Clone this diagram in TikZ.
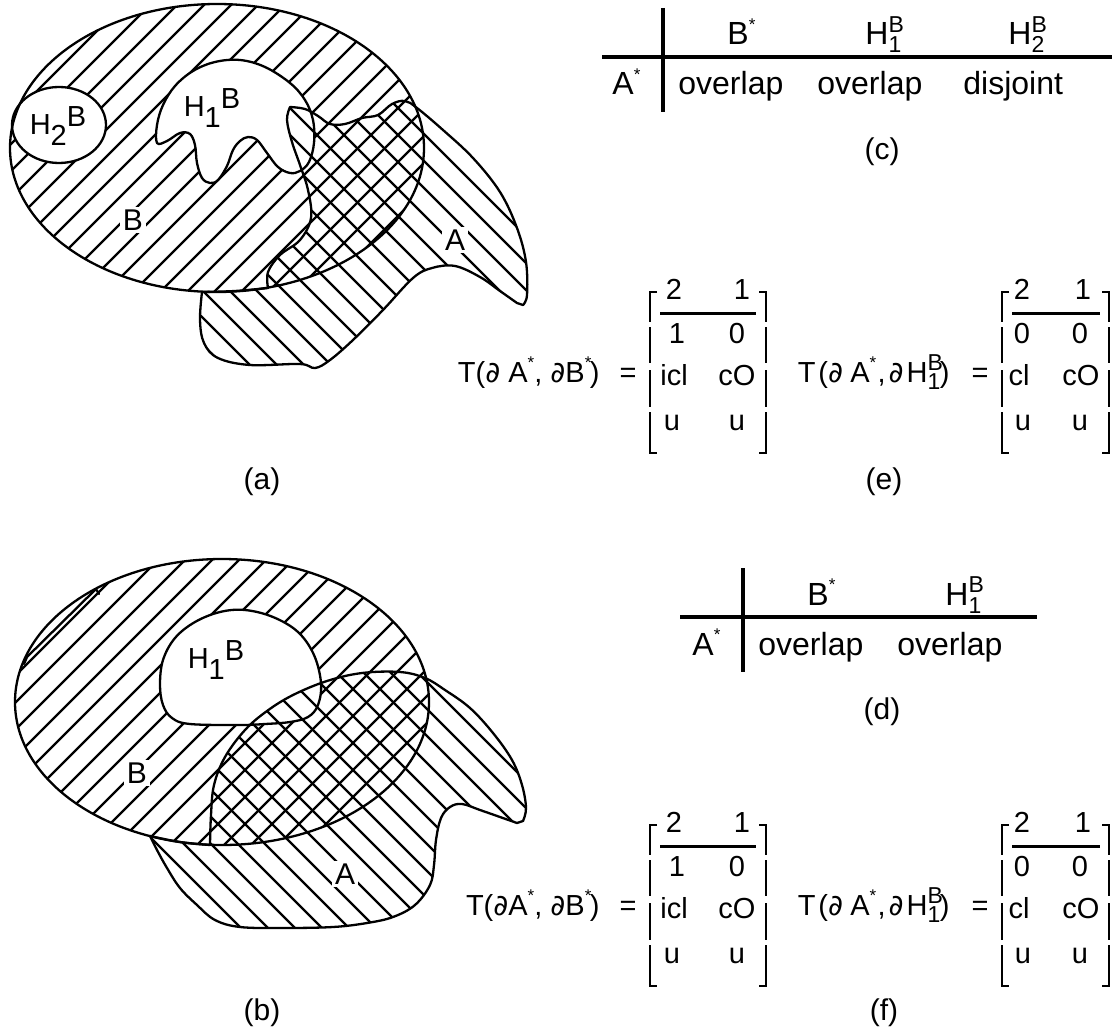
\documentclass[tikz,border=0pt]{standalone}
\usepackage{fontspec}
\setmainfont{Liberation Sans}
\newfontfamily\djv{DejaVu Sans}
\newcommand\pd{{\djv\itshape ∂}}
\newcommand\st{\raisebox{0.45em}{\fontsize{8.5}{8.5}\selectfont *}}
\newcommand\HB[1]{H\rlap{\raisebox{-0.25em}{\fontsize{11.5}{12}\selectfont #1}}\raisebox{0.4em}{\fontsize{11.5}{12}\selectfont B}}
\newcommand\Hlab[1]{H\raisebox{-0.38em}{#1}\raisebox{0.27em}{B}}
% matrix bracket: x, top, hook (signed)
\newcommand\mbrk[3]{%
  \draw[brk] ({#1+(#3)},#2) -- (#1,#2) -- (#1,#2+30);
  \draw[brk] (#1,#2+35) -- (#1,#2+71);
  \draw[brk] (#1,#2+78) -- (#1,#2+115);
  \draw[brk] (#1,#2+120) -- (#1,#2+161) -- ({#1+(#3)},#2+161);}
% T block: #1 prefix, #2 vertical shift, #3 space after first partial
\newcommand\Tblock[3]{%
\begin{scope}[shift={(0,#2)}]
  \node[mat, anchor=base east] (#1t1) at (600,382) {T(\pd#3A\st, \pd B\st\hspace{-0.05em})};
  \node[mat, anchor=base] (#1q1) at (628,382) {=};
  \mbrk{650}{292}{7}
  \mbrk{766}{292}{-7}
  \draw[mrule] (660,313) -- (756,313);
  \node[mat, anchor=base] (#1a11) at (674,299) {2};
  \node[mat, anchor=base] (#1a12) at (742,299) {1};
  \node[mat, anchor=base] (#1a21) at (677,343) {1};
  \node[mat, anchor=base] (#1a22) at (737,343) {0};
  \node[mat, anchor=base] (#1a31) at (674,385) {icl};
  \node[mat, anchor=base] (#1a32) at (737,385) {cO};
  \node[mat, anchor=base] (#1a41) at (672,430) {u};
  \node[mat, anchor=base] (#1a42) at (737,430) {u};
  \node[mat, anchor=base east] (#1t2) at (950,382) {T\hspace{0.1em}(\pd\hspace{0.25em}A\st\hspace{0.05em},\hspace{0.1em}\pd\hspace{0.1em}\HB{1}\hspace{-0.1em})};
  \node[mat, anchor=base] (#1q2) at (980,382) {=};
  \mbrk{1002}{292}{7}
  \mbrk{1109}{292}{-7}
  \draw[mrule] (1012,313) -- (1100,313);
  \node[mat, anchor=base] (#1b11) at (1022,299) {2};
  \node[mat, anchor=base] (#1b12) at (1083,299) {1};
  \node[mat, anchor=base] (#1b21) at (1022,343) {0};
  \node[mat, anchor=base] (#1b22) at (1080,343) {0};
  \node[mat, anchor=base] (#1b31) at (1019,385) {cl};
  \node[mat, anchor=base] (#1b32) at (1081,385) {cO};
  \node[mat, anchor=base] (#1b41) at (1023,430) {u};
  \node[mat, anchor=base] (#1b42) at (1080,430) {u};
\end{scope}}
% shapes of figure (a)
\def\Ba{(217,148) ellipse [x radius=207, y radius=144]}
\def\Hiia{(59,125) ellipse [x radius=47, y radius=38]}
\def\Hia{plot[smooth cycle, tension=0.6] coordinates {(157,143) (167,141) (180,133) (190,134) (195,145) (197,163) (202,178) (210,183) (218,180) (227,166) (233,150) (240,141) (248,137) (257,140) (267,153) (278,167) (290,173) (300,171) (309,162) (314,143) (313,120) (305,100) (290,83) (265,67) (240,60) (215,62) (193,71) (175,86) (163,105) (157,125)}}
\def\Aa{plot[smooth,tension=0.6] coordinates {(290,107) (305,109) (318,116) (330,124) (345,124) (362,118) (378,115) (392,104) (405,101) (417,108) (443,130) (473,158) (500,192) (517,228) (526,262) (527,295) (523,305)} -- plot[smooth,tension=0.6] coordinates {(517,303) (500,291) (480,277) (455,266) (432,268) (413,278) (383,310) (353,340) (330,360) (315,368) (300,364) (250,365) (218,358) (204,343) (200,320) (202,292)} -- plot[smooth,tension=0.6] coordinates {(202,292) (235,291) (268,288)} -- plot[smooth,tension=0.6] coordinates {(268,288) (268,272) (280,255) (300,240) (311,218) (308,190) (300,165) (292,142) (287,120) (290,107)} -- cycle}
% shapes of figure (b)
\def\Bb{(222,702) ellipse [x radius=207, y radius=143]}
\def\Hib{plot[smooth cycle, tension=0.6] coordinates {(163,705) (160,685) (163,660) (175,638) (195,622) (220,612) (245,610) (273,617) (298,632) (314,655) (321,683) (318,705) (308,717) (290,722) (265,724) (240,725) (190,724) (172,718)}}
\def\Ab{plot[smooth,tension=0.6] coordinates {(210,845) (211,815) (214,785) (225,757) (245,730) (267,711) (293,695) (327,681) (362,673) (400,672) (425,678) (445,690) (470,708) (493,733) (512,760) (522,785) (526,808) (523,821)} -- plot[smooth,tension=0.6] coordinates {(517,823) (500,817) (480,810) (462,804) (450,807) (441,818) (436,840) (434,865) (430,885) (415,905) (393,917) (367,923) (333,927) (283,928) (240,927) (215,920) (197,905) (180,888) (167,868) (157,850) (150,836)} -- plot[smooth,tension=0.6] coordinates {(150,836) (180,842) (210,845)} -- cycle}
\begin{document}
\begin{tikzpicture}[x=0.5pt, y=-0.5pt,
 outl/.style={line width=1.15pt, line join=round, line cap=round},
 hatch/.style={line width=1.2pt},
 tline/.style={line width=1.6pt},
 brk/.style={line width=1pt},
 mrule/.style={line width=1.5pt},
 tab/.style={font=\fontsize{16}{19}\selectfont, inner sep=0pt},
 mat/.style={font=\fontsize{14.5}{17}\selectfont, inner sep=0pt},
 flab/.style={font=\fontsize{15}{17}\selectfont, fill=white, inner sep=1.5pt},
 hlab/.style={font=\fontsize{14.5}{17}\selectfont, inner sep=1pt},
 capt/.style={font=\fontsize{15}{17}\selectfont, inner sep=0pt}]
\useasboundingbox (0,0) rectangle (1112,1032);
\fill[white] (0,0) rectangle (1112,1032);

% ---------- figure (a) ----------
\begin{scope}
  \clip \Ba;
  \foreach \k in {-13,...,17} \draw[hatch] ({310+27*\k},-20) -- ++(-480,480);
\end{scope}
\fill[white] \Hiia;
\fill[white] \Hia;
\begin{scope}
  \clip \Aa;
  \foreach \k in {-5,...,22} \draw[hatch] ({-115+27*\k-80},-80) -- ++(520,520);
\end{scope}
\draw[outl] \Ba;
\draw[outl] \Hiia;
\draw[outl] \Hia;
\draw[outl] \Aa;
\node[hlab] (aH2) at (58,126) {\Hlab{2}};
\node[hlab] (aH1) at (212,108) {\Hlab{1}};
\node[flab] (aB) at (133,220) {B};
\node[flab] (aA) at (455,240) {A};
\node[capt] (la) at (262,482) {(a)};

% ---------- figure (b) ----------
\begin{scope}
  \clip \Bb;
  \foreach \k in {-13,...,16} \draw[hatch] ({880+27*\k-530},530) -- ++(-340,340);
\end{scope}
\fill[white] \Hib;
\begin{scope}
  \clip \Ab;
  \foreach \k in {-5,...,22} \draw[hatch] ({-687+27*\k+640},640) -- ++(320,320);
\end{scope}
\draw[outl] \Bb;
\draw[outl] \Hib;
\draw[outl] \Ab;
\draw[outl] (24,664) -- (27,657) -- (96,589) -- (99,594);
\node[hlab] (bH1) at (216,660) {\Hlab{1}};
\node[flab] (bB) at (137,773) {B};
\node[flab] (bA) at (345,874) {A};
\node[capt] (lb) at (262,1013) {(b)};

% ---------- table (c) ----------
\draw[tline] (663,8) -- (663,112);
\draw[tline] (602,57) -- (1112,57);
\node[tab, anchor=base west] (cB) at (727,45) {B\st};
\node[tab, anchor=base west] (cH1) at (865,45) {\HB{1}};
\node[tab, anchor=base west] (cH2) at (1008,45) {\HB{2}};
\node[tab, anchor=base west] (cA) at (612,95) {A\st};
\node[tab, anchor=base west] (co1) at (678,95) {overlap};
\node[tab, anchor=base west] (co2) at (817,95) {overlap};
\node[tab, anchor=base west] (cdj) at (963,95) {disjoint};
\node[capt] (lc) at (882,152) {(c)};

% ---------- table (d) ----------
\draw[tline] (743,568) -- (743,672);
\draw[tline] (680,617) -- (1037,617);
\node[tab, anchor=base west] (dB) at (807,605) {B\st};
\node[tab, anchor=base west] (dH1) at (945,605) {\HB{1}};
\node[tab, anchor=base west] (dA) at (692,655) {A\st};
\node[tab, anchor=base west] (do1) at (758,655) {overlap};
\node[tab, anchor=base west] (do2) at (897,655) {overlap};
\node[capt] (ld) at (882,712) {(d)};

% ---------- (e) and (f) ----------
\Tblock{e}{0}{\ }
\node[capt] (le) at (884,482) {(e)};
\Tblock{f}{533}{}
\node[capt] (lf) at (884,1013) {(f)};
\end{tikzpicture}
\end{document}
